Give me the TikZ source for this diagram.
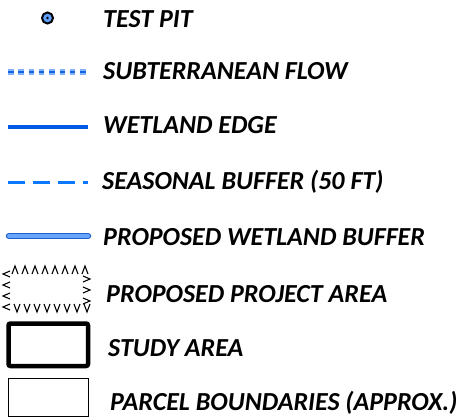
\documentclass[tikz,border=0pt]{standalone}
\usepackage{fontspec}
\setmainfont{Carlito}
\usepackage{tikz}
\definecolor{ColFlowA}{RGB}{130,178,250}
\definecolor{ColFlowB}{RGB}{20,100,225}
\definecolor{ColEdge}{RGB}{0,90,230}
\definecolor{ColSeason}{RGB}{10,120,255}
\definecolor{ColBufFill}{RGB}{105,165,250}
\definecolor{ColBufLine}{RGB}{30,95,200}
\definecolor{ColPit}{RGB}{95,160,255}
\tikzstyle{LegendText}=[anchor=base west,inner sep=0pt,
font=\fontsize{26}{26}\selectfont\bfseries\itshape]
\tikzstyle{Chevron}=[black,line width=1.1pt,line join=miter]

\begin{document}
\begin{tikzpicture}[x=1pt,y=-1pt]
        \useasboundingbox (0,0) rectangle (461,420);
        % test pit
        \node[circle,draw=black,fill=ColPit,line width=2pt,minimum size=11pt,inner sep=0pt](pit)at(47.5,18){};
        \fill[black](pit.center)circle(1.4pt);
        % subterranean flow
        \draw[ColFlowA,line width=5.5pt,dash pattern=on 5.5pt off 4.8pt](8,72)--(89,72);
        \draw[ColFlowB,line width=2.2pt,dash pattern=on 5.5pt off 4.8pt](8,72)--(89,72);
        % wetland edge
        \draw[ColEdge,line width=3pt](8,127)--(88,127);
        % seasonal buffer
        \draw[ColSeason,line width=3pt,dash pattern=on 16.7pt off 8.3pt](8,182)--(88,182);
        % wetland buffer
        \draw[ColBufLine,line width=6.5pt,line cap=round](9,236)--(88,236);
        \draw[ColBufFill,line width=4pt,line cap=round](9,236)--(88,236);
        % project area
        \foreach \x in {15,25,...,85}
            \draw[Chevron](\x-3,274)--(\x,266)--(\x+3,274);
        \foreach \x in {17,27,...,87}
            \draw[Chevron](\x-3,304)--(\x,312)--(\x+3,304);
        \foreach \y in {274,285,296,307}
            \draw[Chevron](10,\y-3)--(3,\y)--(10,\y+3);
        \foreach \y in {279,290,301}
            \draw[Chevron](83,\y-3)--(90,\y)--(83,\y+3);
        % study area
        \draw[black,line width=4.5pt,rounded corners=2pt](8.5,323.5)rectangle(88,366);
        % parcel
        \draw[black,line width=.8pt](8.5,378.5)rectangle(88,416.5);
        % labels
        \node[LegendText](tPit)at(103,28){TEST PIT};
        \node[LegendText](tFlow)at(103,80){SUBTERRANEAN FLOW};
        \node[LegendText](tEdge)at(103,134){WETLAND EDGE};
        \node[LegendText](tSeason)at(102,189){SEASONAL BUFFER (50 FT)};
        \node[LegendText](tBuffer)at(103,245){PROPOSED WETLAND BUFFER};
        \node[LegendText](tProject)at(106,302){PROPOSED PROJECT AREA};
        \node[LegendText](tStudy)at(108,356){STUDY AREA};
        \node[LegendText](tParcel)at(110,410){PARCEL BOUNDARIES (APPROX.)};
    \end{tikzpicture}
\end{document}
